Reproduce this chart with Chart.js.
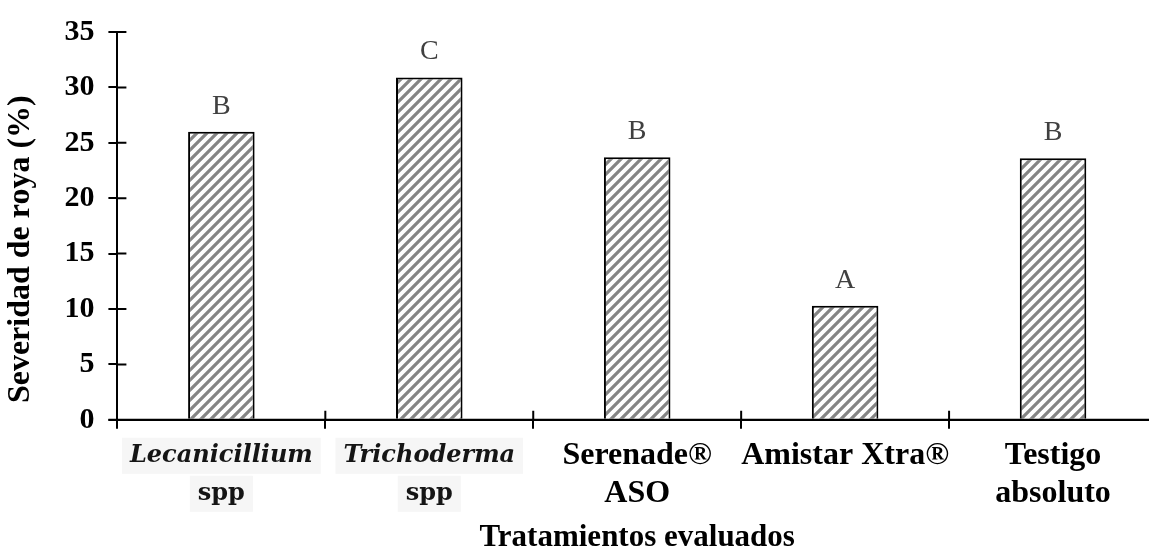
<!DOCTYPE html>
<html>
<head>
<meta charset="utf-8">
<script src="https://cdn.jsdelivr.net/npm/chart.js@4.4.1/dist/chart.umd.min.js"></script>
<style>
  html, body { margin: 0; padding: 0; background: #fff; overflow: hidden; }
  #wrap { width: 1149px; height: 559px; overflow: hidden; }
</style>
</head>
<body>
<div id="wrap"><canvas id="chart" width="1165" height="559"></canvas></div>
<script>
const labelLines = [['Lecanicillium', 'spp'], ['Trichoderma', 'spp'], ['Serenade®', 'ASO'], ['Amistar Xtra®'], ['Testigo', 'absoluto']];
const italicName = [true, true, false, false, false];
const severity = [26.0, 30.9, 23.7, 10.3, 23.6];
const groups = ['B', 'C', 'B', 'A', 'B'];
const yMin = 0, yMax = 35, yStep = 5;
const yTitle = 'Severidad de roya (%)';

function hatch() {
    let s = 10;
    let c = document.createElement('canvas');
    c.width = s; c.height = s;
    let g = c.getContext('2d');
    g.fillStyle = '#fff';
    g.fillRect(0, 0, s, s);
    g.strokeStyle = '#858585';
    g.lineWidth = 3.2;
    g.beginPath();
    g.moveTo(-2, s + 2); g.lineTo(s + 2, -2);
    g.moveTo(-2, 2); g.lineTo(2, -2);
    g.moveTo(s - 2, s + 2); g.lineTo(s + 2, s - 2);
    g.stroke();
    return g.createPattern(c, 'repeat');
}

// cross ticks, bar letters, y title and category labels
const extras = {
    id: 'extras',
    afterDraw(chart) {
        let ctx = chart.ctx;
        let x = chart.scales.x, y = chart.scales.y;
        let area = chart.chartArea;
        ctx.save();
        ctx.strokeStyle = '#000';
        ctx.lineWidth = 2;
        ctx.beginPath();
        ctx.moveTo(area.left - 9, area.bottom);
        ctx.lineTo(area.right, area.bottom);
        for (let t of y.ticks) {
            let py = y.getPixelForValue(t.value);
            ctx.moveTo(area.left, py); ctx.lineTo(area.left + 9, py);
        }
        let n = labelLines.length;
        for (let i = 1; i < n; i++) {
            let px = (x.getPixelForValue(i - 1) + x.getPixelForValue(i)) / 2;
            ctx.moveTo(px, area.bottom); ctx.lineTo(px, area.bottom - 9);
        }
        ctx.stroke();

        let meta = chart.getDatasetMeta(0);
        ctx.fillStyle = '#404040';
        ctx.font = '28px "Liberation Serif"';
        ctx.textAlign = 'center';
        ctx.textBaseline = 'alphabetic';
        meta.data.forEach((bar, i) => {
            ctx.fillText(groups[i], bar.x, bar.y - 18);
        });

        // y title sits a bit below the axis centre in the original
        ctx.save();
        ctx.translate(y.left + 19, y.getPixelForValue(15.4));
        ctx.rotate(-Math.PI / 2);
        ctx.textBaseline = 'middle';
        ctx.fillStyle = '#000';
        ctx.font = 'bold 32px "Liberation Serif"';
        ctx.fillText(yTitle, 0, 0);
        ctx.restore();

        ctx.textBaseline = 'middle';
        labelLines.forEach((lines, i) => {
            let cx = x.getPixelForValue(i);
            lines.forEach((txt, j) => {
                let cy = area.bottom + 36 + j * 38;
                if (italicName[i]) {
                    ctx.font = (j === 0 ? 'italic bold ' : 'bold ') + '24px "DejaVu Serif"';
                    let w = ctx.measureText(txt).width;
                    ctx.fillStyle = '#f6f6f6';
                    ctx.fillRect(cx - w / 2 - 8, cy - 18, w + 16, 36);
                    ctx.fillStyle = '#151515';
                } else {
                    ctx.font = 'bold 32px "Liberation Serif"';
                    ctx.fillStyle = '#000';
                }
                ctx.fillText(txt, cx, cy);
            });
        });
        ctx.restore();
    }
};

new Chart(document.getElementById('chart'), {
    type: 'bar',
    data: {
        labels: labelLines.map(l => l.join(' ')),
        datasets: [{
            data: severity,
            backgroundColor: hatch(),
            borderColor: '#000',
            borderWidth: 2,
            borderSkipped: 'bottom',
            barPercentage: 0.32,
            categoryPercentage: 1
        }]
    },
    options: {
        responsive: false,
        animation: false,
        layout: { padding: { left: 2, right: 8, top: 4, bottom: 0 } },
        plugins: { legend: { display: false }, tooltip: { enabled: false } },
        scales: {
            x: {
                grid: { display: true, drawOnChartArea: false, offset: true, color: '#000', lineWidth: 2, tickLength: 9 },
                border: { color: '#000', width: 2 },
                ticks: { display: false },
                title: {
                    display: true,
                    text: 'Tratamientos evaluados',
                    color: '#000',
                    font: { family: 'Liberation Serif', size: 31, weight: 'bold' },
                    padding: { top: 91, bottom: 2 }
                }
            },
            y: {
                min: yMin,
                max: yMax,
                grid: { drawOnChartArea: false, color: '#000', lineWidth: 2, tickLength: 9 },
                border: { color: '#000', width: 2 },
                ticks: {
                    stepSize: yStep,
                    color: '#000',
                    padding: 14,
                    font: { family: 'Liberation Serif', size: 30, weight: 'bold' }
                },
                title: {
                    display: true,
                    text: yTitle,
                    color: 'rgba(0,0,0,0)',
                    font: { family: 'Liberation Serif', size: 32, weight: 'bold' },
                    padding: { top: 0, bottom: 10 }
                }
            }
        }
    },
    plugins: [extras]
});
</script>
</body>
</html>
